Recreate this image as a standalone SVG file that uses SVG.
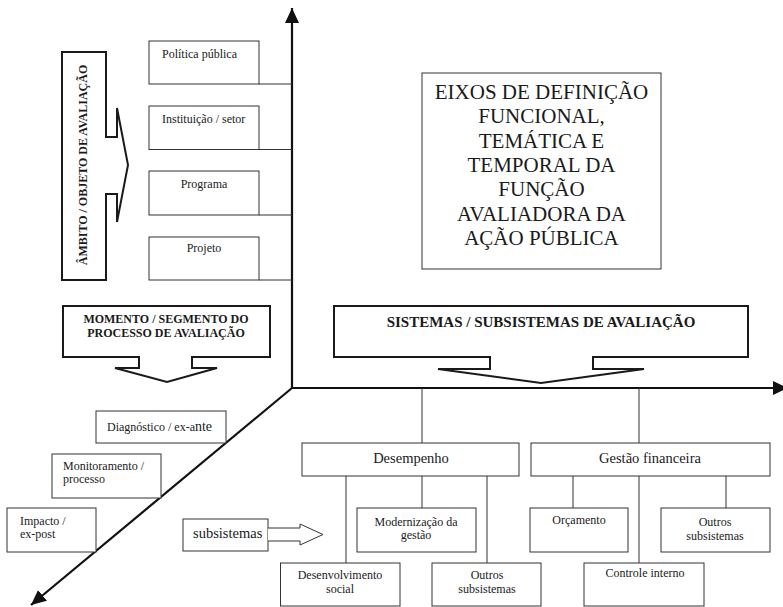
<svg xmlns="http://www.w3.org/2000/svg" width="783" height="607" viewBox="0 0 783 607">
<defs>
<style>
.bg{fill:#fff}
.box{fill:#fff;stroke:#333;stroke-width:1}
.thick{fill:#fff;stroke:#1a1a1a;stroke-width:2;stroke-linejoin:miter}
.axis{stroke:#111;stroke-width:2.2;fill:none}
.conn{stroke:#333;stroke-width:1;fill:none}
.t{font-family:"Liberation Serif","Times New Roman",serif;fill:#1a1a1a}
.s12{font-size:12px}
.s14{font-size:14.5px}
.s21{font-size:21px}
.b{font-weight:bold}
.m{text-anchor:middle}
</style>
<marker id="ah" markerUnits="userSpaceOnUse" markerWidth="16" markerHeight="14" viewBox="0 0 16 14" refX="15" refY="7" orient="auto">
<path d="M0,0 L15,7 L0,14 Z" fill="#111"/>
</marker>
</defs>
<rect class="bg" x="0" y="0" width="783" height="607"/>

<g id="connectors">
<line class="axis" x1="292" y1="389" x2="292" y2="8" marker-end="url(#ah)"/>
<line class="axis" x1="291" y1="388" x2="788" y2="388" marker-end="url(#ah)"/>
<line class="axis" x1="292" y1="388" x2="31" y2="605" marker-end="url(#ah)"/>
<line class="conn" x1="259" y1="84" x2="292" y2="84"/>
<line class="conn" x1="259" y1="149.5" x2="292" y2="149.5"/>
<line class="conn" x1="259" y1="215" x2="292" y2="215"/>
<line class="conn" x1="259" y1="280" x2="292" y2="280"/>
<line class="conn" x1="422" y1="388" x2="422" y2="443"/>
<line class="conn" x1="639" y1="388" x2="639" y2="443"/>
<line class="conn" x1="346" y1="476" x2="346" y2="563"/>
<line class="conn" x1="422" y1="476" x2="422" y2="508"/>
<line class="conn" x1="487" y1="476" x2="487" y2="563"/>
<line class="conn" x1="573" y1="476" x2="573" y2="508"/>
<line class="conn" x1="639" y1="476" x2="639" y2="563"/>
<line class="conn" x1="726" y1="476" x2="726" y2="508"/>
</g>

<g id="ambito">
<path class="thick" d="M62,52 H106 V137 H117 V108 L128,165 L117,222 V194 H106 V280 H62 Z"/>
<text class="t s12 b m" transform="translate(87,165) rotate(-90)">ÂMBITO / OBJETO DE AVALIAÇÃO</text>
</g>

<g id="politica">
<rect class="box" x="149" y="41" width="110" height="43"/>
<text class="t s12" x="162" y="58">Política pública</text>
</g>
<g id="instituicao">
<rect class="box" x="149" y="106" width="110" height="43.5"/>
<text class="t s12" x="162" y="123">Instituição / setor</text>
</g>
<g id="programa">
<rect class="box" x="149" y="171" width="110" height="44"/>
<text class="t s12 m" x="204" y="188">Programa</text>
</g>
<g id="projeto">
<rect class="box" x="149" y="237" width="110" height="43"/>
<text class="t s12 m" x="204" y="252">Projeto</text>
</g>

<g id="eixos">
<rect class="box" x="422" y="73" width="239" height="196"/>
<text class="t s21 m" x="541.5" y="99">EIXOS DE DEFINIÇÃO</text>
<text class="t s21 m" x="541.5" y="123.3">FUNCIONAL,</text>
<text class="t s21 m" x="541.5" y="147.6">TEMÁTICA E</text>
<text class="t s21 m" x="541.5" y="171.9">TEMPORAL DA</text>
<text class="t s21 m" x="541.5" y="196.2">FUNÇÃO</text>
<text class="t s21 m" x="541.5" y="220.5">AVALIADORA DA</text>
<text class="t s21 m" x="541.5" y="244.8">AÇÃO PÚBLICA</text>
</g>

<g id="momento">
<path class="thick" d="M63,306 H270 V357 H192 V368 H217 L167,382 L115,368 H139 V357 H63 Z"/>
<text class="t s12 b m" x="166" y="323">MOMENTO / SEGMENTO DO</text>
<text class="t s12 b m" x="166" y="337">PROCESSO DE AVALIAÇÃO</text>
</g>

<g id="sistemas">
<path class="thick" d="M334,306 H748 V357 H593 V369 H644 L541,383 L438,369 H490 V357 H334 Z"/>
<text class="t b m" style="font-size:15px" x="541" y="327">SISTEMAS / SUBSISTEMAS DE AVALIAÇÃO</text>
</g>

<g id="diagnostico">
<rect class="box" x="96" y="411" width="130" height="32"/>
<text class="t s12" x="107" y="431">Diagnóstico / ex-a<tspan style="font-size:14px">nte</tspan></text>
</g>
<g id="monitoramento">
<rect class="box" x="52" y="454" width="109" height="44"/>
<text class="t s12" x="63" y="470">Monitoramento /</text>
<text class="t s12" x="63" y="483">processo</text>
</g>
<g id="impacto">
<rect class="box" x="7" y="508" width="89" height="44"/>
<text class="t s12" x="20" y="525">Impacto /</text>
<text class="t s12" x="20" y="538">ex-post</text>
</g>

<g id="subsistemas">
<rect class="box" x="183" y="519" width="85" height="32"/>
<path class="box" d="M268,528 H300 V524 L323,534.5 L300,545 V541 H268"/>
<text class="t s14" x="193" y="538">subsistemas</text>
</g>

<g id="desempenho">
<rect class="box" x="302" y="443" width="217" height="33"/>
<text class="t s14 m" x="411" y="463">Desempenho</text>
</g>
<g id="gestao">
<rect class="box" x="531" y="443" width="239" height="33"/>
<text class="t s14 m" x="650" y="463">Gestão financeira</text>
</g>
<g id="modernizacao">
<rect class="box" x="357" y="508" width="119" height="44"/>
<text class="t s12 m" x="416" y="526">Modernização da</text>
<text class="t s12 m" x="416" y="539">gestão</text>
</g>
<g id="desenvolvimento">
<rect class="box" x="280.5" y="563" width="119.5" height="43"/>
<text class="t s12 m" x="340" y="579">Desenvolvimento</text>
<text class="t s12 m" x="340" y="593">social</text>
</g>
<g id="outros1">
<rect class="box" x="432" y="563" width="109" height="43"/>
<text class="t s12 m" x="487" y="579">Outros</text>
<text class="t s12 m" x="487" y="593">subsistemas</text>
</g>
<g id="orcamento">
<rect class="box" x="530" y="508" width="98" height="44"/>
<text class="t s12 m" x="579" y="524">Orçamento</text>
</g>
<g id="outros2">
<rect class="box" x="661" y="508" width="109" height="44"/>
<text class="t s12 m" x="715" y="526">Outros</text>
<text class="t s12 m" x="715" y="540">subsistemas</text>
</g>
<g id="controle">
<rect class="box" x="584" y="563" width="120" height="43"/>
<text class="t s12 m" x="645" y="577">Controle interno</text>
</g>
</svg>
